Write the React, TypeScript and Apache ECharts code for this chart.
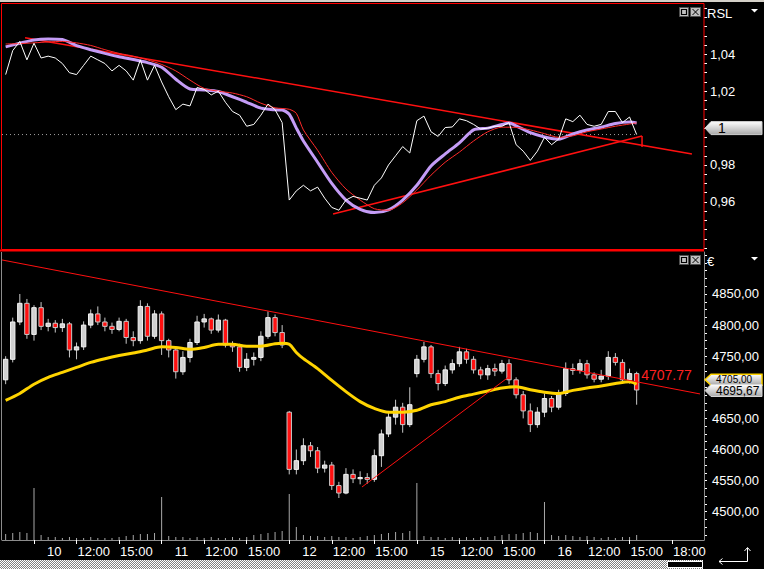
import React, { useEffect, useRef } from 'react';
import * as echarts from 'echarts';

const FONT = "'Liberation Sans Narrow','Arial Narrow','Liberation Sans',Arial,sans-serif";

// x axis: trading hours since day 10, 09:00 (9 trading hours per day: 09:00-18:00)
const X_MIN = -2.257;
const X_MAX = 47.25;
const X_TICKS = [0, 3, 6, 9, 12, 15, 18, 21, 24, 27, 30, 33, 36, 39, 42, 45];
const X_TICK_LABELS = ['10', '12:00', '15:00', '11', '12:00', '15:00', '12', '12:00', '15:00', '15', '12:00', '15:00', '16', '12:00', '15:00', '18:00'];

// y axis tick labels
const RSL_LABELS = [0.96, 0.98, 1.02, 1.04];
const PRICE_LABELS = [4500, 4550, 4600, 4650, 4750, 4800, 4850];

// 30-minute candles, first one at t = -2
const CANDLE_START = -2;
const CANDLE_STEP = 0.5;
const OPEN = [
  4712, 4745, 4805, 4835, 4785, 4828, 4798, 4803, 4796, 4802,
  4760, 4765, 4800, 4818, 4805, 4798, 4793, 4806, 4780, 4775,
  4830, 4782, 4818, 4775, 4760, 4725, 4748, 4772, 4805, 4810,
  4792, 4808, 4768, 4765, 4732, 4745, 4748, 4782, 4812, 4788,
  4660, 4568, 4582, 4606, 4598, 4570, 4575, 4542, 4530, 4560,
  4553, 4555, 4552, 4590, 4625, 4652, 4668, 4640, 4722, 4745,
  4765, 4722, 4706, 4728, 4738, 4757, 4745, 4728, 4720, 4730,
  4726, 4738, 4712, 4688, 4662, 4640, 4660, 4682, 4668, 4690,
  4730, 4727, 4738, 4720, 4713, 4718, 4748, 4740, 4712, 4722,
];
const CLOSE = [
  4745, 4805, 4835, 4785, 4828, 4798, 4803, 4796, 4802, 4760,
  4765, 4800, 4818, 4805, 4798, 4793, 4806, 4780, 4775, 4830,
  4782, 4818, 4775, 4760, 4725, 4748, 4772, 4805, 4810, 4792,
  4808, 4768, 4765, 4732, 4745, 4748, 4782, 4812, 4788, 4768,
  4568, 4582, 4606, 4598, 4570, 4575, 4542, 4530, 4560, 4553,
  4555, 4552, 4590, 4625, 4652, 4668, 4640, 4672, 4745, 4765,
  4722, 4706, 4728, 4738, 4757, 4745, 4728, 4720, 4730, 4726,
  4738, 4712, 4688, 4662, 4640, 4660, 4682, 4668, 4690, 4730,
  4727, 4738, 4720, 4713, 4718, 4748, 4740, 4712, 4722, 4695.67,
];
const LOW = [
  4705, 4740, 4800, 4778, 4775, 4792, 4790, 4788, 4789, 4748,
  4745, 4760, 4795, 4800, 4790, 4786, 4790, 4770, 4766, 4770,
  4775, 4778, 4752, 4748, 4714, 4720, 4740, 4768, 4796, 4786,
  4788, 4764, 4757, 4725, 4726, 4735, 4742, 4778, 4782, 4763,
  4560, 4560, 4575, 4588, 4562, 4563, 4535, 4522, 4528, 4546,
  4544, 4545, 4548, 4572, 4620, 4640, 4627, 4636, 4716, 4740,
  4715, 4695, 4702, 4722, 4733, 4738, 4722, 4713, 4712, 4718,
  4722, 4705, 4682, 4650, 4628, 4635, 4652, 4660, 4664, 4686,
  4720, 4722, 4714, 4708, 4708, 4712, 4735, 4706, 4706, 4672,
];
const HIGH = [
  4750, 4812, 4850, 4842, 4832, 4837, 4810, 4808, 4810, 4805,
  4772, 4806, 4825, 4830, 4812, 4804, 4812, 4810, 4790, 4840,
  4835, 4824, 4822, 4778, 4762, 4758, 4778, 4815, 4818, 4812,
  4817, 4810, 4774, 4770, 4755, 4756, 4790, 4822, 4817, 4800,
  4662, 4600, 4618, 4612, 4604, 4582, 4580, 4548, 4570, 4568,
  4565, 4562, 4600, 4632, 4662, 4680, 4675, 4700, 4752, 4773,
  4768, 4728, 4735, 4745, 4765, 4762, 4750, 4733, 4736, 4738,
  4744, 4745, 4716, 4694, 4674, 4668, 4690, 4686, 4696, 4740,
  4738, 4745, 4744, 4724, 4728, 4758, 4755, 4745, 4730, 4725,
];
const VOLUME = [
  60, 70, 80, 70, 520, 50, 30, 30, 20, 30,
  20, 20, 30, 20, 20, 20, 30, 40, 50, 60,
  60, 70, 430, 40, 30, 30, 20, 30, 20, 30,
  20, 20, 30, 20, 30, 50, 60, 70, 80, 90,
  460, 130, 50, 40, 40, 30, 40, 30, 30, 20,
  30, 40, 50, 60, 70, 80, 70, 90, 570, 40,
  30, 30, 20, 30, 20, 30, 20, 30, 30, 40,
  50, 60, 60, 70, 80, 70, 380, 50, 40, 50,
  40, 30, 40, 30, 20, 30, 20, 30, 30, 50,
];
// RSL (white), same 30-minute times as the candles
const RSL = [
  1.029, 1.042, 1.047, 1.037, 1.046, 1.038, 1.039, 1.038, 1.035, 1.030,
  1.029, 1.034, 1.039, 1.037, 1.035, 1.031, 1.034, 1.031, 1.026, 1.037,
  1.026, 1.034, 1.025, 1.017, 1.010, 1.013, 1.012, 1.022, 1.021, 1.018,
  1.020, 1.014, 1.009, 1.007, 1.001, 1.002, 1.007, 1.013, 1.010, 1.003,
  0.961, 0.966, 0.969, 0.966, 0.968, 0.962, 0.957, 0.9555, 0.961, 0.963,
  0.962, 0.961, 0.969, 0.973, 0.980, 0.985, 0.990, 0.9865, 1.004, 1.0065,
  0.998, 0.9955, 1.0003, 1.0006, 1.005, 1.004, 1.002, 0.9995, 1.000, 1.001,
  1.001, 1.003, 0.991, 0.9875, 0.9825, 0.9875, 0.995, 0.991, 0.994, 1.005,
  1.0035, 1.007, 1.002, 1.001, 1.002, 1.009, 1.009, 1.003, 1.006, 0.9965,
];
// RSL average (purple)
const RSL_AVG_T = [-2, -1, 0, 1, 2, 3, 4, 5, 6, 7, 8, 9, 10, 11, 12, 13, 14, 15, 16, 17, 17.5, 18, 18.5, 19, 20, 21, 22, 23, 24, 25, 26, 27, 28, 29, 30, 31, 32, 33, 33.5, 34, 35, 36, 37, 38, 39, 40, 41, 42, 42.5];
const RSL_AVG = [1.044, 1.046, 1.0478, 1.0483, 1.048, 1.0447, 1.0425, 1.0405, 1.0387, 1.0372, 1.0355, 1.033, 1.0265, 1.0212, 1.0207, 1.0198, 1.017, 1.014, 1.0108, 1.0099, 1.0098, 1.0075, 1.0, 0.993, 0.9815, 0.970, 0.961, 0.956, 0.9542, 0.9557, 0.961, 0.969, 0.9795, 0.986, 0.992, 0.999, 1.0, 1.002, 1.0028, 1.0012, 0.9975, 0.9952, 0.994, 0.9968, 0.999, 1.0005, 1.0025, 1.0033, 1.0028];
// RSL slow average (thin red)
const RSL_SLOW_T = [-2, -1, 0, 1, 2, 3, 4, 5, 6, 7, 8, 9, 10, 11, 12, 13, 14, 15, 16, 17, 18, 18.5, 19, 20, 21, 22, 23, 24, 25, 26, 27, 28, 29, 30, 31, 32, 33, 34, 35, 36, 37, 38, 39, 40, 41, 42, 42.5];
const RSL_SLOW = [1.0456, 1.0458, 1.0462, 1.0467, 1.047, 1.0462, 1.0448, 1.0425, 1.0405, 1.039, 1.037, 1.0345, 1.031, 1.026, 1.0215, 1.020, 1.019, 1.017, 1.0135, 1.011, 1.0102, 1.008, 0.999, 0.988, 0.976, 0.967, 0.961, 0.9563, 0.9555, 0.9595, 0.9665, 0.9745, 0.9815, 0.987, 0.993, 0.998, 1.0005, 1.0004, 0.999, 0.997, 0.995, 0.9958, 0.998, 0.9995, 1.001, 1.0022, 1.0028];
// price moving average (yellow)
const MA_T = [-2, -1, 0, 1, 2, 3, 4, 5, 6, 7, 8, 9, 10, 11, 12, 13, 14, 15, 16, 17, 17.5, 18, 18.5, 19, 20, 21, 22, 23, 24, 25, 26, 27, 28, 29, 30, 31, 32, 33, 34, 35, 36, 37, 38, 39, 40, 41, 42, 42.5];
const MA = [4679, 4690, 4705, 4716, 4724, 4732, 4740, 4746, 4751, 4755, 4760, 4765, 4764, 4761, 4764, 4769, 4769, 4766, 4766, 4770, 4771, 4769, 4756, 4746, 4730, 4711, 4693, 4677, 4666, 4660, 4660, 4663, 4672, 4677, 4684, 4689, 4694, 4699, 4701, 4696, 4692, 4690, 4695, 4699, 4702, 4706, 4709, 4705];
// trend lines [t, value]
const RSL_TREND_DOWN = [[-0.63, 1.049], [46.4, 0.986]];
const RSL_TREND_UP = [[21.09, 0.9534], [42.88, 0.9957]];
const RSL_TREND_MARK = [[42.88, 0.9957], [42.88, 0.9897]];
const PRICE_TREND_DOWN = [[-2.257, 4904.7], [46.97, 4689.3]];
const PRICE_TREND_UP = [[23.13, 4539.7], [33.57, 4718.2]];
const TREND_LABEL = '4707.77';
const TREND_LABEL_T = 42.75;
const RSL_MARKER_VALUE = 1;

const zip = (ts: number[], vs: number[]) => ts.map((t, i) => [t, vs[i]]);
const range = (a: number, b: number, s: number) => {
  const out: number[] = [];
  for (let v = a; v <= b + 1e-9; v += s) out.push(Math.round(v * 10000) / 10000);
  return out;
};
const comma = (v: number) => v.toFixed(2).replace('.', ',');

function buildOption() {
  const candleT = OPEN.map((_, i) => CANDLE_START + i * CANDLE_STEP);
  const candles = OPEN.map((o, i) => [candleT[i], o, CLOSE[i], LOW[i], HIGH[i]]);
  const xLabelPos = X_TICKS.map((t, i) => t + (X_TICK_LABELS[i].includes(':') ? 0.07 : 0.92));
  const lastRsl = RSL[RSL.length - 1];
  const lastT = candleT[candleT.length - 1];
  const red = '#ff1010';
  const line = (x: number, y: number, data: any, color: string, width: number, extra: any = {}) => ({
    type: 'line', xAxisIndex: x, yAxisIndex: y, data, symbol: 'none', silent: true,
    lineStyle: { color, width, ...(extra.lineStyle || {}) }, smooth: extra.smooth || false, z: extra.z || 2,
  });
  return {
    animation: false,
    backgroundColor: '#000000',
    grid: [
      { left: 2, right: 60, top: 4, height: 246 },
      { left: 2, right: 60, top: 252, height: 288 },
    ],
    xAxis: [
      { type: 'value', gridIndex: 0, min: X_MIN, max: X_MAX, show: false, axisLine: { onZero: false } },
      {
        type: 'value', gridIndex: 1, min: X_MIN, max: X_MAX,
        axisLine: { show: true, onZero: false, lineStyle: { color: '#8c8c8c', width: 1 } },
        axisTick: { show: true, customValues: X_TICKS, length: 4, lineStyle: { color: '#ffffff' } },
        axisLabel: {
          show: true, customValues: xLabelPos, align: 'left', margin: 5,
          color: '#ffffff', fontFamily: FONT, fontSize: 13,
          formatter: (v: number) => {
            const i = xLabelPos.findIndex((p) => Math.abs(p - v) < 1e-6);
            return i >= 0 ? X_TICK_LABELS[i] : '';
          },
        },
        splitLine: { show: false },
      },
    ],
    yAxis: [
      {
        type: 'value', gridIndex: 0, position: 'right', min: 0.93393, max: 1.06726,
        axisLine: { show: false, onZero: false },
        axisTick: { show: true, customValues: range(0.935, 1.065, 0.005), length: 3, lineStyle: { color: '#ffffff' } },
        axisLabel: { customValues: RSL_LABELS, margin: 6, color: '#ffffff', fontFamily: FONT, fontSize: 13, formatter: comma },
        splitLine: { show: false },
      },
      {
        type: 'value', gridIndex: 1, position: 'right', min: 4454.5, max: 4917.5,
        axisLine: { show: true, onZero: false, lineStyle: { color: '#8c8c8c' } },
        axisTick: { show: true, customValues: range(4462.5, 4912.5, 12.5), length: 3, lineStyle: { color: '#ffffff' } },
        axisLabel: { customValues: PRICE_LABELS, margin: 8, color: '#ffffff', fontFamily: FONT, fontSize: 13, formatter: comma },
        splitLine: { show: false },
      },
      { type: 'value', gridIndex: 1, min: 0, max: 2880, show: false, axisLine: { show: false, onZero: false } },
    ],
    series: [
      line(0, 0, [[X_MIN, lastRsl], [lastT, lastRsl]], '#a0a0a0', 1, { lineStyle: { type: [1, 3] } }),
      line(0, 0, RSL_TREND_DOWN, red, 1.5),
      line(0, 0, RSL_TREND_UP, red, 1.5),
      line(0, 0, RSL_TREND_MARK, red, 1.5),
      line(0, 0, zip(RSL_AVG_T, RSL_AVG), '#c49cf6', 3, { smooth: 0.25, z: 3 }),
      line(0, 0, zip(RSL_SLOW_T, RSL_SLOW), '#ff2a2a', 1, { smooth: 0.25, z: 4 }),
      line(0, 0, zip(candleT, RSL), '#ffffff', 1, { z: 5 }),
      {
        type: 'bar', xAxisIndex: 1, yAxisIndex: 2, barWidth: 1, silent: true,
        data: candleT.map((t, i) => [t, VOLUME[i]]),
        itemStyle: { color: '#a8a8a8' },
      },
      {
        type: 'custom', xAxisIndex: 1, yAxisIndex: 1, silent: true, z: 2,
        data: candles,
        encode: { x: 0, y: [1, 2, 3, 4] },
        renderItem: (params: any, api: any) => {
          const t = api.value(0), o = api.value(1), c = api.value(2), l = api.value(3), h = api.value(4);
          const pO = api.coord([t, o]);
          const pC = api.coord([t, c]);
          const pL = api.coord([t, l]);
          const pH = api.coord([t, h]);
          const w = api.size([CANDLE_STEP, 0])[0] * 0.62;
          const x = pO[0];
          const top = Math.min(pO[1], pC[1]);
          const bh = Math.max(Math.abs(pO[1] - pC[1]), 1);
          const down = c < o;
          return {
            type: 'group',
            children: [
              { type: 'line', shape: { x1: x, y1: pH[1], x2: x, y2: pL[1] }, style: { stroke: '#c8c8c8', lineWidth: 1 } },
              {
                type: 'rect', shape: { x: x - w / 2, y: top, width: w, height: bh },
                style: { fill: down ? '#ff1010' : '#d0d0d0', stroke: down ? '#c8c8c8' : '#f4f4f4', lineWidth: 1 },
              },
            ],
          };
        },
      },
      line(1, 1, zip(MA_T, MA), '#ffd400', 3, { smooth: 0.3, z: 3 }),
      line(1, 1, PRICE_TREND_DOWN, red, 1, { z: 4 }),
      line(1, 1, PRICE_TREND_UP, red, 1, { z: 4 }),
    ],
  };
}

function arrowBox(yc: number, h: number) {
  return [[705, yc], [711, yc - h / 2], [762, yc - h / 2], [762, yc + h / 2], [711, yc + h / 2]];
}

function buildGraphics(chart: any) {
  const Z = 100;
  const grad = () => new echarts.graphic.LinearGradient(0, 0, 0, 1, [
    { offset: 0, color: '#ffffff' },
    { offset: 1, color: '#a9a9a9' },
  ]);
  const txt = (x: number, y: number, text: string, fill: string, size: number, align = 'left') => ({
    type: 'text', z: Z + 2,
    style: { x, y, text, fill, font: `${size}px ${FONT}`, align, textAlign: align, verticalAlign: 'middle', textVerticalAlign: 'middle' },
  });
  const yP = (v: number) => chart.convertToPixel({ yAxisIndex: 1 }, v) as number;
  const yR = (v: number) => chart.convertToPixel({ yAxisIndex: 0 }, v) as number;
  const xP = (v: number) => chart.convertToPixel({ xAxisIndex: 1 }, v) as number;

  const g: any[] = [];
  g.push({ type: 'rect', z: Z, shape: { x: 0, y: 0, width: 764, height: 2 }, style: { fill: '#d4d0c8' } });
  g.push({ type: 'rect', z: Z, shape: { x: 1.5, y: 3.5, width: 702.5, height: 246 }, style: { fill: 'none', stroke: '#ff0000', lineWidth: 1 } });
  g.push({ type: 'line', z: Z, shape: { x1: 0, y1: 250.5, x2: 704, y2: 250.5 }, style: { stroke: '#ff0000', lineWidth: 2 } });
  g.push({ type: 'line', z: Z, shape: { x1: 1.5, y1: 252, x2: 1.5, y2: 540 }, style: { stroke: '#8c8c8c', lineWidth: 1 } });
  g.push({ type: 'line', z: Z, shape: { x1: 704.5, y1: 252, x2: 704.5, y2: 540 }, style: { stroke: '#8c8c8c', lineWidth: 1 } });

  // headers
  g.push(txt(707, 13, 'RSL', '#ffffff', 13));
  g.push(txt(707, 261, '€', '#ffffff', 13));
  g.push({ type: 'polygon', z: Z, shape: { points: [[751, 9], [758, 9], [754.5, 12.5]] }, style: { fill: '#ffffff' } });
  g.push({ type: 'polygon', z: Z, shape: { points: [[751, 257], [758, 257], [754.5, 260.5]] }, style: { fill: '#ffffff' } });

  // window buttons
  const buttons = (y: number) => [
    { type: 'rect', z: Z, shape: { x: 679.5, y, width: 9, height: 9 }, style: { fill: '#c0c0c0', stroke: '#505050', lineWidth: 1 } },
    { type: 'rect', z: Z + 1, shape: { x: 681.5, y: y + 2, width: 5, height: 5 }, style: { fill: 'none', stroke: '#000000', lineWidth: 1.2 } },
    { type: 'rect', z: Z, shape: { x: 690.5, y, width: 10, height: 9 }, style: { fill: '#c0c0c0', stroke: '#505050', lineWidth: 1 } },
    { type: 'line', z: Z + 1, shape: { x1: 692.5, y1: y + 1.5, x2: 698.5, y2: y + 7.5 }, style: { stroke: '#000000', lineWidth: 1 } },
    { type: 'line', z: Z + 1, shape: { x1: 698.5, y1: y + 1.5, x2: 692.5, y2: y + 7.5 }, style: { stroke: '#000000', lineWidth: 1 } },
  ];
  g.push(...buttons(7.5), ...buttons(255.5));

  // value markers on the right axes
  const yOne = yR(RSL_MARKER_VALUE);
  g.push({ type: 'polygon', z: Z, shape: { points: arrowBox(yOne, 13) }, style: { fill: grad(), stroke: '#d0d0d0', lineWidth: 1 } });
  g.push(txt(718, yOne, String(RSL_MARKER_VALUE), '#000000', 14));

  const lastMa = MA[MA.length - 1];
  const lastClose = CLOSE[CLOSE.length - 1];
  const yMa = yP(lastMa);
  const yClose = yP(lastClose);
  g.push({ type: 'polygon', z: Z, shape: { points: arrowBox(yMa - 4.5, 11) }, style: { fill: grad(), stroke: '#ffd400', lineWidth: 1.5 } });
  g.push(txt(716, yMa - 5, comma(lastMa), '#000000', 10));
  g.push({ type: 'polygon', z: Z + 3, shape: { points: arrowBox(yClose + 0.5, 12) }, style: { fill: grad(), stroke: '#d8d8d8', lineWidth: 1 } });
  g.push({ ...txt(716, yClose + 1.5, comma(lastClose), '#000000', 12), z: Z + 4 });

  // trend line value label
  const [[t0, v0], [t1, v1]] = PRICE_TREND_DOWN;
  const vAt = v0 + ((v1 - v0) * (TREND_LABEL_T - t0)) / (t1 - t0);
  g.push(txt(xP(TREND_LABEL_T) + 1, yP(vAt) - 7, TREND_LABEL, '#ff2020', 14));

  // scrollbar
  let fill: any = '#b0b0b0';
  try {
    const cv = document.createElement('canvas');
    cv.width = 2; cv.height = 2;
    const ctx = cv.getContext('2d');
    if (ctx) {
      ctx.fillStyle = '#808080'; ctx.fillRect(0, 0, 2, 2);
      ctx.fillStyle = '#ffffff'; ctx.fillRect(0, 0, 1, 1); ctx.fillRect(1, 1, 1, 1);
      fill = { image: cv.toDataURL(), repeat: 'repeat' };
    }
  } catch (e) { /* keep flat fill */ }
  g.push({ type: 'rect', z: Z, shape: { x: 0, y: 560, width: 703, height: 9 }, style: { fill } });
  g.push({ type: 'rect', z: Z + 1, shape: { x: 667.5, y: 561.5, width: 35, height: 6 }, style: { fill: '#000000', stroke: '#ffffff', lineWidth: 1 } });

  // corner arrow
  g.push({ type: 'polyline', z: Z, shape: { points: [[747.5, 548], [747.5, 561.5], [719, 561.5]] }, style: { stroke: '#ffffff', lineWidth: 1, fill: 'none' } });
  g.push({ type: 'polyline', z: Z, shape: { points: [[744.5, 551], [747.5, 547.5], [750.5, 551]] }, style: { stroke: '#ffffff', lineWidth: 1, fill: 'none' } });
  g.push({ type: 'polyline', z: Z, shape: { points: [[722.5, 558.5], [719, 561.5], [722.5, 564.5]] }, style: { stroke: '#ffffff', lineWidth: 1, fill: 'none' } });
  return g;
}

export default function App() {
  const ref = useRef<HTMLDivElement>(null);
  useEffect(() => {
    if (!ref.current) return;
    const chart = echarts.init(ref.current, null, { renderer: 'svg' });
    chart.setOption(buildOption() as any);
    chart.setOption({ graphic: buildGraphics(chart) } as any);
    return () => chart.dispose();
  }, []);
  return (
    <div
      ref={ref}
      style={{ position: 'fixed', left: 0, top: 0, width: 764, height: 569, background: '#000000' }}
    />
  );
}
